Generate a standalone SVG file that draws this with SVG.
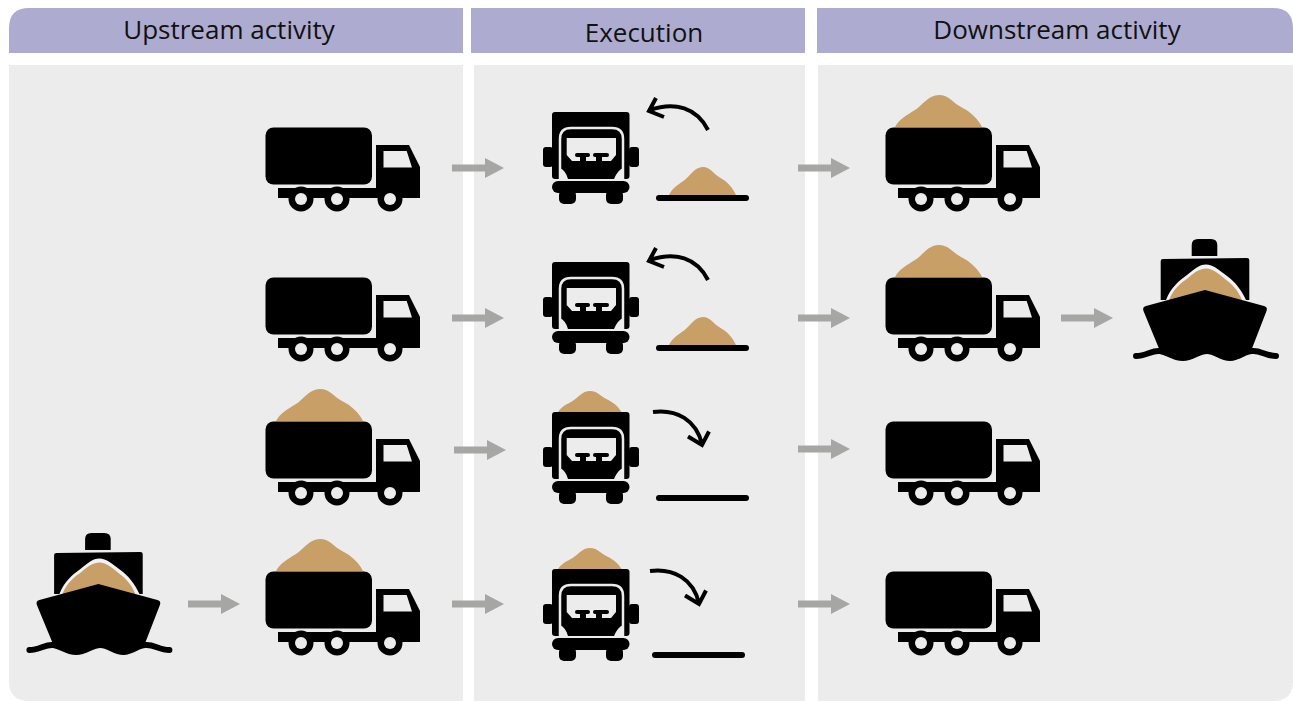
<svg xmlns="http://www.w3.org/2000/svg" xmlns:xlink="http://www.w3.org/1999/xlink" width="1293" height="701" viewBox="0 0 1293 701">
<style>
.hdr{fill:#adacd0}
.pan{fill:#ececec}
.t{font-family:"Open Sans","Noto Sans",sans-serif;font-size:26px;fill:#111;text-anchor:middle}
.cut{fill:#ececec}
.sand{fill:#c89f67}
.ga{fill:#a6a6a4}
.cv{fill:none;stroke:#000;stroke-width:4}
.gr{stroke:#000;stroke-width:6;stroke-linecap:round}
.tail{fill:none;stroke:#000;stroke-width:6;stroke-linecap:round}
</style>
<defs>
<path id="pile" class="sand" d="M0 32C4 24 12 20 20 15C28 10 33 0 44 0C54 0 58 8 66 12C76 17 83 24 87 32Z"/>
<g id="side">
<rect x="0.500" y="0.500" width="106.500" height="57" rx="8"/>
<path d="M111 18H144L155 40V71H13V61H111Z"/>
<circle cx="36" cy="72" r="12.500"/><circle cx="72" cy="72" r="12.500"/><circle cx="125" cy="72" r="12.500"/>
<path class="cut" d="M118.500 24H141.700L147 40.500H118.500Z"/>
<circle class="cut" cx="36" cy="72" r="6"/><circle class="cut" cx="72" cy="72" r="6"/><circle class="cut" cx="125" cy="72" r="6"/>
</g>
<g id="front">
<rect x="9" y="0" width="77.500" height="67" rx="3"/>
<rect x="0" y="35" width="10" height="20" rx="3"/><rect x="86" y="35" width="10" height="20" rx="3"/>
<path class="cut" d="M17 67V56Q23 59 25 67ZM80 67V56Q74 59 71 67Z"/>
<path d="M17 67V27Q17 16 28 16H69Q80 16 80 27V67" fill="none" stroke="#ececec" stroke-width="2.500"/>
<path class="cut" d="M23.700 26H73V43L68 49H29L23.700 43Z"/>
<rect x="32" y="41" width="15" height="4" rx="2"/><rect x="50" y="41" width="16" height="4" rx="2"/>
<rect x="37" y="44" width="6" height="5"/><rect x="53" y="44" width="6" height="5"/>
<rect x="9" y="69" width="77.500" height="12" rx="6"/>
<rect x="16" y="78" width="17" height="14" rx="5"/><rect x="63" y="78" width="17" height="14" rx="5"/>
</g>
<g id="arrow"><path class="ga" d="M0 -3.500H33V-10L52 0L33 10V3.500H0Z"/></g>
<g id="ship">
<path d="M1191.700 256V245Q1191.700 239 1198 239H1211Q1217.300 239 1217.300 245V256Z"/>
<path d="M1160.700 261Q1160.700 259 1163 259L1247 258Q1249.300 258 1249.300 260V300H1160.700Z"/>
<path fill="#f2f2f2" d="M1166 300C1171 287 1179 281 1187 275C1195 269 1199 264.500 1206 264.500C1213 264.500 1219 270 1227 276C1235 282 1241 289 1246 300Z"/>
<path class="sand" d="M1169 300C1174 288 1181 283 1188 278C1195 272 1200 268.500 1206 268.500C1212 268.500 1218 273 1225 279C1232 284 1238 290 1242 300Z"/>
<path d="M1205 290L1264 306Q1268 307 1266.500 311L1251 351C1244 351 1240 358 1230 358C1220 358 1216 351 1207 351C1198 351 1193 358 1183 358C1172 358 1168 352 1160 351L1143.500 311Q1142 307 1146 306Z"/>
<path class="tail" d="M1136 356C1146 356 1152 350 1160 351C1168 352 1172 358 1183 358C1193 358 1198 351 1207 351C1216 351 1220 358 1230 358C1240 358 1244 351 1252 351C1260 350 1266 356 1276 356"/>
</g>
<g id="arcUp"><path class="cv" d="M708 130C697 108 675 101 650 110M656 98L649 111L664 117"/></g>
<g id="arcDn"><path class="cv" d="M653 412C677 409 696 420 702 444M688 436.500L702 445L709 431.500"/></g>
</defs>
<g id="headers">
<path class="hdr" d="M9 53V28Q9 8 29 8H463V53Z"/>
<rect class="hdr" x="471" y="8" width="334" height="45"/>
<path class="hdr" d="M817 8H1273Q1293 8 1293 28V53H817Z"/>
<text class="t" x="229" y="39">Upstream activity</text>
<text class="t" x="644" y="42">Execution</text>
<text class="t" x="1057" y="39">Downstream activity</text>
</g>
<g id="panels">
<path class="pan" d="M9 65H463V701H29Q9 701 9 681Z"/>
<rect class="pan" x="474" y="65" width="331" height="636"/>
<path class="pan" d="M818 65H1293V681Q1293 701 1273 701H818Z"/>
</g>
<g id="connectors">
<use href="#arrow" x="452" y="168"/>
<use href="#arrow" x="452" y="318"/>
<use href="#arrow" x="454" y="450"/>
<use href="#arrow" x="452" y="604"/>
<use href="#arrow" x="188" y="604"/>
<use href="#arrow" x="798" y="168"/>
<use href="#arrow" x="798" y="318"/>
<use href="#arrow" x="798" y="449"/>
<use href="#arrow" x="798" y="604"/>
<use href="#arrow" x="1061" y="318"/>
</g>
<g id="ship-upstream"><use href="#ship" x="-1106.600" y="294"/></g>
<g id="truck-up-1"><use href="#side" x="265" y="127"/></g>
<g id="truck-up-2"><use href="#side" x="265" y="277"/></g>
<g id="truck-up-3"><use href="#pile" x="276" y="389"/><use href="#side" x="265" y="421"/></g>
<g id="truck-up-4"><use href="#pile" x="276" y="539"/><use href="#side" x="265" y="571"/></g>
<g id="exec-1"><use href="#front" x="543" y="112"/><use href="#arcUp"/><use href="#pile" transform="translate(669 167) scale(.77 .875)"/><line class="gr" x1="659" y1="198" x2="746" y2="198"/></g>
<g id="exec-2"><use href="#front" x="543" y="262"/><use href="#arcUp" y="150"/><use href="#pile" transform="translate(669 317) scale(.77 .875)"/><line class="gr" x1="659" y1="348" x2="746" y2="348"/></g>
<g id="exec-3"><use href="#pile" transform="translate(558 391) scale(.73 .66)"/><use href="#front" x="543" y="412"/><use href="#arcDn"/><line class="gr" x1="659" y1="498" x2="746" y2="498"/></g>
<g id="exec-4"><use href="#pile" transform="translate(558 548) scale(.73 .66)"/><use href="#front" x="543" y="569"/><use href="#arcDn" x="-3" y="159"/><line class="gr" x1="655" y1="655" x2="742" y2="655"/></g>
<g id="truck-down-1"><use href="#pile" x="895" y="95"/><use href="#side" x="885" y="127"/></g>
<g id="truck-down-2"><use href="#pile" x="895" y="245"/><use href="#side" x="885" y="277"/></g>
<g id="truck-down-3"><use href="#side" x="885" y="421"/></g>
<g id="truck-down-4"><use href="#side" x="885" y="571"/></g>
<g id="ship-downstream"><use href="#ship"/></g>
</svg>
